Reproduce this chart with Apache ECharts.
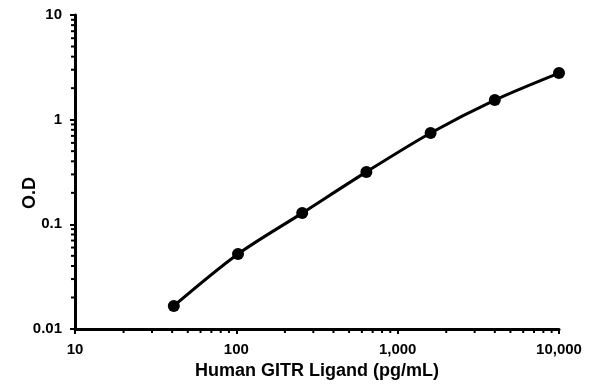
<!DOCTYPE html>
<html>
<head>
<meta charset="utf-8">
<script src="https://cdn.jsdelivr.net/npm/echarts@6/dist/echarts.min.js"></script>
<style>
html,body{margin:0;padding:0;background:#fff;}
#chart{width:595px;height:392px;}
</style>
</head>
<body>
<div id="chart"></div>
<script>
// standard curve data
var conc = [40.96, 102.4, 256, 640, 1600, 4000, 10000];
var od = [0.0166, 0.052, 0.128, 0.317, 0.746, 1.54, 2.79];
var xTickLabels = {10: '10', 100: '100', 1000: '1,000', 10000: '10,000'};
var yTickLabels = {0.01: '0.01', 0.1: '0.1', 1: '1', 10: '10'};
var xMinor = [20, 30, 40, 50, 60, 70, 80, 90, 200, 300, 400, 500, 600, 700, 800, 900,
    2000, 3000, 4000, 5000, 6000, 7000, 8000, 9000];
var yMinor = [0.02, 0.03, 0.04, 0.05, 0.06, 0.07, 0.08, 0.09, 0.2, 0.3, 0.4, 0.5, 0.6, 0.7, 0.8, 0.9,
    2, 3, 4, 5, 6, 7, 8, 9];

var chart = echarts.init(document.getElementById('chart'));
var font = 'Liberation Sans, Arial, sans-serif';

var points = [];
for (var i = 0; i < conc.length; i++) {
    points.push([conc[i], od[i]]);
}
var minorData = [];
for (var i = 0; i < xMinor.length; i++) minorData.push(['x', xMinor[i]]);
for (var i = 0; i < yMinor.length; i++) minorData.push(['y', yMinor[i]]);

function lbl(map) {
    return function (v) {
        for (var k in map) {
            if (Math.abs(Math.log10(v) - Math.log10(+k)) < 1e-6) return map[k];
        }
        return '';
    };
}

chart.setOption({
    animation: false,
    grid: {left: 75, right: 36, top: 15, bottom: 63},
    // y axis title sits a bit below the middle in the original
    graphic: [{
        type: 'text',
        left: 21,
        top: 177,
        rotation: Math.PI / 2,
        style: {text: 'O.D', fontFamily: font, fontWeight: 'bold', fontSize: 18, fill: '#000'}
    }],
    xAxis: {
        type: 'log', logBase: 10, min: 10, max: 10000,
        name: 'Human GITR Ligand (pg/mL)', nameLocation: 'middle', nameGap: 30,
        nameTextStyle: {fontFamily: font, fontWeight: 'bold', fontSize: 18, color: '#000'},
        axisLine: {lineStyle: {color: '#000', width: 3}},
        axisTick: {inside: false, length: 5, lineStyle: {color: '#000', width: 2}},
        axisLabel: {fontFamily: font, fontWeight: 'bold', fontSize: 15, color: '#000', margin: 13,
            formatter: lbl(xTickLabels)},
        splitLine: {show: false}
    },
    yAxis: {
        type: 'log', logBase: 10, min: 0.01, max: 10,
        axisLine: {lineStyle: {color: '#000', width: 3}},
        axisTick: {inside: false, length: 5, lineStyle: {color: '#000', width: 2}},
        axisLabel: {fontFamily: font, fontWeight: 'bold', fontSize: 15, color: '#000', margin: 13,
            formatter: lbl(yTickLabels)},
        splitLine: {show: false}
    },
    series: [{
        type: 'line',
        data: points,
        smooth: 0.3,
        symbol: 'circle',
        symbolSize: 12,
        itemStyle: {color: '#000'},
        lineStyle: {color: '#000', width: 3}
    }, {
        type: 'custom',
        silent: true,
        clip: false,
        data: minorData,
        renderItem: function (params, api) {
            var axis = minorData[params.dataIndex][0];
            var v = minorData[params.dataIndex][1];
            var p, shape;
            if (axis === 'x') {
                p = api.coord([v, 0.01]);
                shape = {x1: p[0], y1: p[1], x2: p[0], y2: p[1] + 4};
            } else {
                p = api.coord([10, v]);
                shape = {x1: p[0], y1: p[1], x2: p[0] - 4, y2: p[1]};
            }
            return {type: 'line', shape: shape, style: {stroke: '#000', lineWidth: 2}};
        }
    }]
});
</script>
</body>
</html>
